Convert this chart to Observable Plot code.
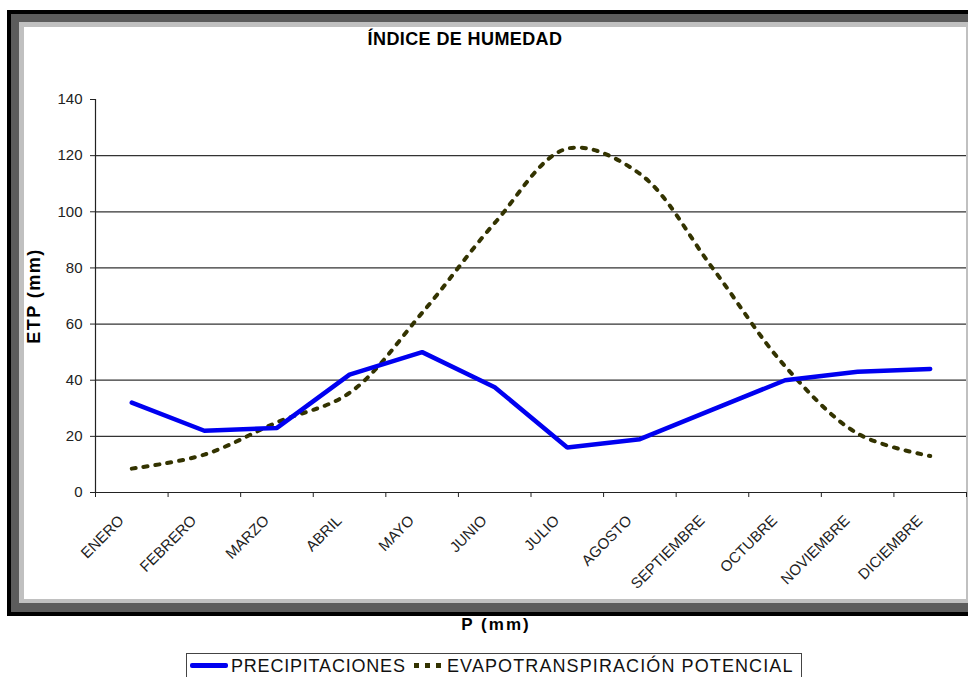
<!DOCTYPE html>
<html>
<head>
<meta charset="utf-8">
<script src="https://cdn.jsdelivr.net/npm/d3@7"></script>
<script src="https://cdn.jsdelivr.net/npm/@observablehq/plot@0.6"></script>
<style>
  body { margin: 0; background: #fff; }
  #wrap { position: relative; width: 968px; height: 677px; overflow: hidden; background: #fff;
          font-family: "Liberation Sans", Arial, sans-serif; }
  .abs { position: absolute; }
</style>
</head>
<body>
<div id="wrap">
  <div class="abs" style="left:7px;top:10px;width:990px;height:606px;background:#000"></div>
  <div class="abs" style="left:11px;top:14px;width:990px;height:598px;background:#5c5c5c"></div>
  <div class="abs" style="left:19px;top:22px;width:990px;height:581px;background:#c0c0c0"></div>
  <div id="chart" class="abs" style="left:24px;top:27px;width:942px;height:572px;background:#fff"></div>
  <div id="title" class="abs" style="left:265px;top:30px;width:400px;text-align:center;font-size:18px;line-height:18px;font-weight:bold;letter-spacing:0.4px;color:#000">ÍNDICE DE HUMEDAD</div>
  <div id="xlabel" class="abs" style="left:396px;top:616px;width:200px;text-align:center;font-size:17px;line-height:17px;font-weight:bold;letter-spacing:2px;color:#000">P (mm)</div>
  <div id="legend" class="abs" style="left:186px;top:653px;width:616px;height:32px;border:1px solid #444;box-sizing:border-box;background:#fff">
    <div class="abs" style="left:3px;top:9px;width:38px;height:5px;background:#0000f0;border-radius:2px"></div>
    <div class="abs" style="left:44px;top:5px;font-size:18px;line-height:14px;letter-spacing:0.8px;color:#111;white-space:nowrap">PRECIPITACIONES</div>
    <div class="abs" style="left:227px;top:9px;width:30px;height:5px;background:repeating-linear-gradient(to right,#333300 0 5px,transparent 5px 11px)"></div>
    <div class="abs" style="left:260px;top:5px;font-size:18px;line-height:14px;letter-spacing:1.1px;color:#111;white-space:nowrap">EVAPOTRANSPIRACIÓN POTENCIAL</div>
  </div>
</div>
<script>
const months = ["ENERO","FEBRERO","MARZO","ABRIL","MAYO","JUNIO","JULIO","AGOSTO","SEPTIEMBRE","OCTUBRE","NOVIEMBRE","DICIEMBRE"];
const precipitaciones = [32, 22, 23, 42, 50, 37.5, 16, 19, 29.5, 40, 43, 44];
const evapotranspiracion = [8.5, 13.5, 25, 35.5, 64, 96, 122.5, 113.5, 80, 45, 21, 13];
const yTicks = [0, 20, 40, 60, 80, 100, 120, 140];
const gridTicks = [20, 40, 60, 80, 100, 120];
const yLabel = "ETP (mm)";

const precData = months.map((m, i) => ({i, month: m, v: precipitaciones[i]}));
const etpData = months.map((m, i) => ({i, month: m, v: evapotranspiracion[i]}));
const bounds = d3.range(months.length + 1).map(i => i - 0.5);

const chart = Plot.plot({
  width: 942,
  height: 572,
  marginLeft: 71,
  marginRight: 0,
  marginTop: 72,
  marginBottom: 107,
  style: {background: "transparent", fontFamily: "'Liberation Sans', Arial, sans-serif", color: "#222", overflow: "visible"},
  x: {type: "linear", domain: [-0.5, months.length - 0.5]},
  y: {domain: [0, 140]},
  marks: [
    Plot.ruleY(gridTicks, {stroke: "#333", strokeWidth: 1.2}),
    Plot.axisY({ticks: yTicks, tickSize: 5, tickPadding: 8, fontSize: 15, label: null, tickFormat: d => String(d)}),
    Plot.axisX({ticks: bounds, tickSize: 5, tickFormat: () => "", label: null}),
    Plot.ruleX([-0.5], {stroke: "#222", strokeWidth: 1.2}),
    Plot.ruleY([0], {stroke: "#222", strokeWidth: 1.2}),
    Plot.line(etpData, {x: "i", y: "v", stroke: "#333300", strokeWidth: 4, strokeDasharray: "4,8", curve: "catmull-rom"}),
    Plot.line(precData, {x: "i", y: "v", stroke: "#0000f0", strokeWidth: 4.5, strokeLinejoin: "miter"}),
    Plot.text(months, {x: (d, i) => i, frameAnchor: "bottom", rotate: -45, textAnchor: "end", lineAnchor: "bottom", dx: -7, dy: 29, fontSize: 15, fill: "#222"}),
    Plot.text([yLabel], {frameAnchor: "left", rotate: -90, textAnchor: "middle", lineAnchor: "middle", dx: -61, fontSize: 18, fontWeight: "bold", fill: "#000"})
  ]
});
document.getElementById("chart").appendChild(chart);
d3.select(chart).selectAll("text").filter(function() { return this.textContent === yLabel; }).style("letter-spacing", "1.5px");
</script>
</body>
</html>
